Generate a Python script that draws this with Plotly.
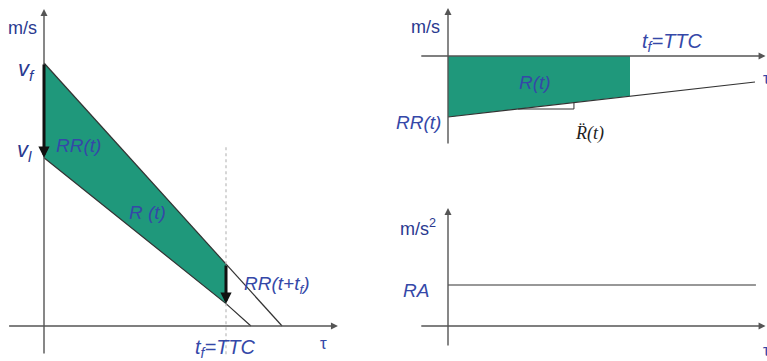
import plotly.graph_objects as go

# ---- left panel: closing speed vs. look-ahead time tau ----
tf = 1.0                      # t_f = TTC
tau_follow = [0.0, 1.0, 1.308]
v_follow = [1.0, 0.236, 0.0]  # starts at v_f
tau_lead = [0.0, 1.0, 1.137]
v_lead = [0.64, 0.085, 0.0]   # starts at v_l

# ---- top-right panel: range rate ----
tau_rr = [0.0, 1.0, 1.687]
rr = [-0.61, -0.40, -0.26]
tau_slope = [0.385, 0.692, 0.692]
v_slope = [-0.53, -0.53, -0.465]

# ---- bottom-right panel: range acceleration ----
tau_ra = [0.0, 1.692]
ra = [0.41, 0.41]

W, H = 767, 361
FILL = "#1f987b"
NAVY = "#2a3990"
BLUE = "#3548a8"
AXIS = "#555555"
LINE = "#333333"
FONT = "Arial, Liberation Sans, sans-serif"


def span(p0, p1, origin_px, px_per_unit, flip=False):
    """Axis range covering pixels p0..p1 given the pixel of value 0."""
    if flip:
        return [(origin_px - p1) / px_per_unit, (origin_px - p0) / px_per_unit]
    return [(p0 - origin_px) / px_per_unit, (p1 - origin_px) / px_per_unit]


fig = go.Figure()

# left panel fill and lines
fig.add_trace(go.Scatter(
    x=tau_follow[:2] + tau_lead[1::-1], y=v_follow[:2] + v_lead[1::-1],
    fill="toself", fillcolor=FILL, mode="lines", line=dict(width=0),
    xaxis="x", yaxis="y", hoverinfo="skip"))
fig.add_trace(go.Scatter(x=tau_follow, y=v_follow, mode="lines",
                         line=dict(color=LINE, width=1.2), xaxis="x", yaxis="y"))
fig.add_trace(go.Scatter(x=tau_lead, y=v_lead, mode="lines",
                         line=dict(color=LINE, width=1.2), xaxis="x", yaxis="y"))
fig.add_trace(go.Scatter(x=[tf, tf], y=[0.68, -0.11], mode="lines",
                         line=dict(color="#bbbbbb", width=1.2, dash="dot"),
                         xaxis="x", yaxis="y"))

# top-right fill and line
fig.add_trace(go.Scatter(
    x=[0, tau_rr[0], tau_rr[1], tau_rr[1]], y=[0, rr[0], rr[1], 0],
    fill="toself", fillcolor=FILL, mode="lines", line=dict(width=0),
    xaxis="x2", yaxis="y2", hoverinfo="skip"))
fig.add_trace(go.Scatter(x=tau_rr, y=rr, mode="lines",
                         line=dict(color=LINE, width=1.2), xaxis="x2", yaxis="y2"))
fig.add_trace(go.Scatter(x=tau_slope, y=v_slope, mode="lines",
                         line=dict(color=LINE, width=1), xaxis="x2", yaxis="y2"))

# bottom-right line
fig.add_trace(go.Scatter(x=tau_ra, y=ra, mode="lines",
                         line=dict(color=LINE, width=1.2), xaxis="x3", yaxis="y3"))


def arrow(xr, yr, x, y, ax, ay, color=AXIS, width=1.4, size=1.0):
    fig.add_annotation(x=x, y=y, ax=ax, ay=ay, xref=xr, yref=yr, axref=xr, ayref=yr,
                       text="", showarrow=True, arrowhead=2, arrowsize=size,
                       arrowwidth=width, arrowcolor=color, standoff=0)


# axes of the left panel
arrow("x", "y", 1.615, 0, -0.20, 0)
arrow("x", "y", 0, 1.205, 0, -0.11)
# axes of the right panels
arrow("x2", "y2", 1.745, 0, -0.155, 0)
arrow("x2", "y2", 0, 0.48, 0, -0.89)
arrow("x3", "y3", 1.745, 0, -0.155, 0)
arrow("x3", "y3", 0, 1.18, 0, -0.21)

# range-rate jumps
arrow("x", "y", 0, v_lead[0], 0, v_follow[0], color="#111111", width=3, size=0.75)
arrow("x", "y", tf, v_lead[1], tf, v_follow[1], color="#111111", width=3, size=0.75)


def label(xr, yr, x, y, text, size=19, color=BLUE, family=FONT):
    fig.add_annotation(x=x, y=y, xref=xr, yref=yr, text=text, showarrow=False,
                       font=dict(size=size, color=color, family=family),
                       xanchor="center", yanchor="middle")


label("x", "y", -0.12, 1.135, "m/s", 18, NAVY)
label("x", "y", -0.095, 0.975, "<i>v<sub>f</sub></i>", 22, NAVY)
label("x", "y", -0.105, 0.665, "<i>v<sub>l</sub></i>", 22, NAVY)
label("x", "y", 0.192, 0.688, "<i>RR(t)</i>")
label("x", "y", 0.571, 0.433, "<i>R (t)</i>")
label("x", "y", 1.275, 0.156, "<i>RR(t+t<sub>f</sub>)</i>")
label("x", "y", 0.995, -0.084, "<i>t<sub>f</sub>=TTC</i>", 20)
label("x", "y", 1.533, -0.065, "τ", 17)

label("x2", "y2", -0.126, 0.29, "m/s", 18, NAVY)
label("x2", "y2", 1.236, 0.14, "<i>t<sub>f</sub>=TTC</i>", 20)
label("x2", "y2", 0.478, -0.26, "<i>R(t)</i>")
label("x2", "y2", -0.16, -0.66, "<i>RR(t)</i>")
label("x2", "y2", 0.775, -0.77, "<i>R\u0308(t)</i>", 18, "#222222",
      "Liberation Serif, Times New Roman, serif")
label("x2", "y2", 1.75, -0.22, "τ", 17)

label("x3", "y3", -0.165, 0.99, "m/s<sup>2</sup>", 18, NAVY)
label("x3", "y3", -0.176, 0.36, "<i>RA</i>", 19)
label("x3", "y3", 1.75, -0.24, "τ", 17)

ax_common = dict(visible=False, showgrid=False, zeroline=False, fixedrange=True)
half = W / 2
fig.update_layout(
    width=W, height=H, margin=dict(l=0, r=0, t=0, b=0),
    paper_bgcolor="white", plot_bgcolor="white", showlegend=False,
    xaxis=dict(domain=[0, 0.5], range=span(0, half, 44, 182), **ax_common),
    yaxis=dict(domain=[0, 1], range=span(0, H, 326, 263, flip=True), **ax_common),
    xaxis2=dict(domain=[0.5, 1], range=span(half, W, 448, 182), anchor="y2", **ax_common),
    yaxis2=dict(domain=[0.5, 1], range=span(0, H / 2, 56, 100, flip=True), anchor="x2",
                **ax_common),
    xaxis3=dict(domain=[0.5, 1], range=span(half, W, 448, 182), anchor="y3", **ax_common),
    yaxis3=dict(domain=[0, 0.5], range=span(H / 2, H, 326, 100, flip=True), anchor="x3",
                **ax_common),
)

fig.write_html("out.html")
